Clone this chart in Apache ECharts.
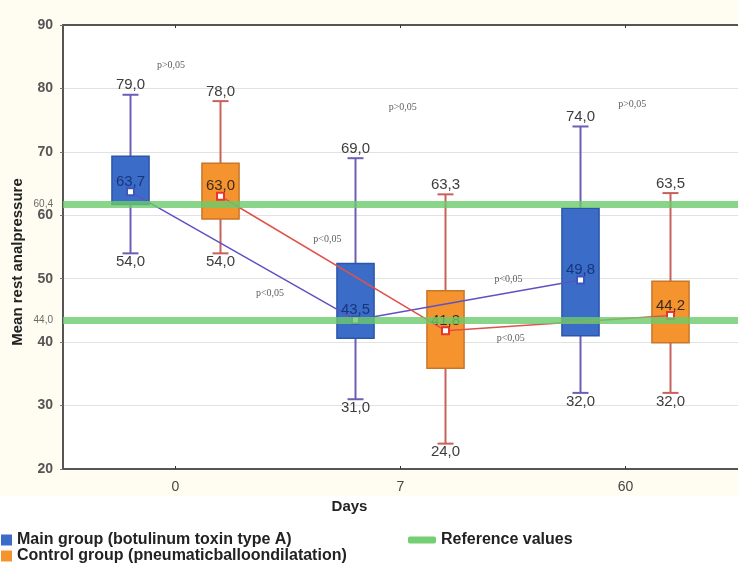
<!DOCTYPE html>
<html>
<head>
<meta charset="utf-8">
<script src="https://cdn.jsdelivr.net/npm/echarts@6/dist/echarts.min.js"></script>
<style>
html,body{margin:0;padding:0;background:#fff;}
#chart{width:738px;height:566px;}
</style>
</head>
<body>
<div id="chart"></div>
<script>
// ---- data ----
const categories = ['0', '7', '60'];

const mainName = 'Main group (botulinum toxin type A)';
const ctrlName = 'Control group (pneumaticballoondilatation)';
const refName = 'Reference values';

// Main group: whisker min, box low, mean, box high, whisker max
const mainMin  = [54.0, 31.0, 32.0];
const mainLow  = [61.7, 40.6, 41.0];
const mainMean = [63.7, 43.5, 49.8];
const mainHigh = [69.3, 52.4, 61.1];
const mainMax  = [79.0, 69.0, 74.0];

// Control group
const ctrlMin  = [54.0, 24.0, 32.0];
const ctrlLow  = [59.4, 35.9, 39.9];
const ctrlMean = [63.0, 41.8, 44.2];
const ctrlHigh = [68.2, 48.1, 49.6];
const ctrlMax  = [78.0, 63.3, 63.5];

// Reference bands (drawn position) and their labels
const refLevels = [61.7, 43.5];
const refLabels = ['60,4', '44,0'];

// p-value notes: text, day position (category index units), value level
const pTexts  = ['p>0,05', 'p>0,05', 'p>0,05', 'p<0,05', 'p<0,05', 'p<0,05', 'p<0,05'];
const pDays   = [-0.02, 1.01, 2.03, 0.675, 0.42, 1.48, 1.49];
const pValues = [83.7, 77.0, 77.5, 56.2, 47.7, 49.9, 40.6];

const yTicks = [20, 30, 40, 50, 60, 70, 80, 90];

// ---- styling constants ----
const GROUP_OFFSET = 0.2;   // fraction of category band
const BOX_WIDTH = 0.165;    // in category units
const fmt = v => v.toFixed(1).replace('.', ',');

function boxData(mins, lows, highs, maxs, sign) {
  return categories.map((c, i) => [i + sign * GROUP_OFFSET, mins[i], lows[i], highs[i], maxs[i]]);
}
function meanData(means, sign) {
  return categories.map((c, i) => [i + sign * GROUP_OFFSET, means[i]]);
}

function makeRender(fill, stroke, whisker) {
  return function (params, api) {
    const x = api.value(0);
    const pMin = api.coord([x, api.value(1)]);
    const pLow = api.coord([x, api.value(2)]);
    const pHigh = api.coord([x, api.value(3)]);
    const pMax = api.coord([x, api.value(4)]);
    const w = api.size([BOX_WIDTH, 0])[0];
    const cap = 8;
    const font = '15px "Liberation Sans", Arial, sans-serif';
    return {
      type: 'group',
      children: [
        { type: 'line', shape: { x1: pMin[0], y1: pMin[1], x2: pMax[0], y2: pMax[1] },
          style: { stroke: whisker, lineWidth: 2 } },
        { type: 'line', shape: { x1: pMax[0] - cap, y1: pMax[1], x2: pMax[0] + cap, y2: pMax[1] },
          style: { stroke: whisker, lineWidth: 2 } },
        { type: 'line', shape: { x1: pMin[0] - cap, y1: pMin[1], x2: pMin[0] + cap, y2: pMin[1] },
          style: { stroke: whisker, lineWidth: 2 } },
        { type: 'rect', shape: { x: pHigh[0] - w / 2, y: pHigh[1], width: w, height: pLow[1] - pHigh[1] },
          style: { fill: fill, stroke: stroke, lineWidth: 1.5 } },
        { type: 'text', style: { text: fmt(api.value(4)), x: pMax[0], y: pMax[1] - 2,
          align: 'center', verticalAlign: 'bottom', font: font, fill: '#3d3d3d' } },
        { type: 'text', style: { text: fmt(api.value(1)), x: pMin[0], y: pMin[1] + 1,
          align: 'center', verticalAlign: 'top', font: font, fill: '#3d3d3d' } }
      ]
    };
  };
}

const chart = echarts.init(document.getElementById('chart'), null, { renderer: 'canvas' });

const option = {
  backgroundColor: '#ffffff',
  animation: false,
  textStyle: { fontFamily: '"Liberation Sans", Arial, sans-serif' },
  graphic: [{
    type: 'rect', left: 0, top: 0, z: -100, silent: true,
    shape: { width: 738, height: 496 },
    style: { fill: '#fffdf2' }
  }],
  grid: {
    left: 63, top: 25, width: 680, height: 444,
    show: true, backgroundColor: '#ffffff', borderWidth: 0
  },
  legend: [{
    data: [mainName, ctrlName],
    orient: 'vertical', left: 1, top: 532, padding: 0,
    icon: 'rect', itemWidth: 11, itemHeight: 11, itemGap: 0, itemTextGap: 5,
    textStyle: { fontWeight: 'bold', fontSize: 16, lineHeight: 16, color: '#222' }
  }, {
    data: [{ name: refName, icon: 'roundRect' }],
    left: 408, top: 532, padding: 0,
    itemWidth: 28, itemHeight: 7, itemTextGap: 7,
    textStyle: { fontWeight: 'bold', fontSize: 16, lineHeight: 16, color: '#222' }
  }],
  xAxis: [{
    type: 'category', data: categories, position: 'bottom', boundaryGap: true,
    axisLine: { lineStyle: { color: '#555', width: 2 } },
    axisTick: { show: true, alignWithLabel: true, inside: true, length: 3, lineStyle: { color: '#333' } },
    axisLabel: { fontSize: 14, color: '#444', margin: 11 },
    splitLine: { show: false },
    name: 'Days', nameLocation: 'middle', nameGap: 29,
    nameTextStyle: { fontWeight: 'bold', fontSize: 15, color: '#222', padding: [0, 102, 0, 0] }
  }, {
    type: 'value', min: -0.5, max: 2.5, show: false, position: 'bottom'
  }, {
    type: 'category', data: categories, position: 'top', boundaryGap: true,
    axisLine: { lineStyle: { color: '#555', width: 2 } },
    axisTick: { show: true, alignWithLabel: true, inside: true, length: 3, lineStyle: { color: '#333' } },
    axisLabel: { show: false }
  }],
  yAxis: [{
    type: 'value', min: yTicks[0], max: yTicks[yTicks.length - 1], interval: 10,
    axisLine: { show: true, onZero: false, lineStyle: { color: '#555', width: 2 } },
    axisTick: { show: true, length: 3, lineStyle: { color: '#777' } },
    axisLabel: { fontSize: 14, fontWeight: 'bold', color: '#555', margin: 10 },
    splitLine: { show: true, lineStyle: { color: '#e2e2e2', width: 1 } },
    name: 'Mean rest analpressure', nameLocation: 'middle', nameGap: 38,
    nameTextStyle: { fontWeight: 'bold', fontSize: 15, color: '#222', padding: [0, 30, 0, 0] }
  }],
  series: [{
    name: mainName, type: 'custom', xAxisIndex: 1, yAxisIndex: 0, z: 2,
    itemStyle: { color: '#3a6cc8' },
    encode: { x: 0, y: [1, 2, 3, 4] },
    renderItem: makeRender('#3a6cc8', '#2a57a8', '#6a5fb5'),
    data: boxData(mainMin, mainLow, mainHigh, mainMax, -1)
  }, {
    name: ctrlName, type: 'custom', xAxisIndex: 1, yAxisIndex: 0, z: 2,
    itemStyle: { color: '#f5942e' },
    encode: { x: 0, y: [1, 2, 3, 4] },
    renderItem: makeRender('#f5942e', '#c8762a', '#c8615a'),
    data: boxData(ctrlMin, ctrlLow, ctrlHigh, ctrlMax, 1)
  }, {
    name: mainName + ' mean', type: 'line', xAxisIndex: 1, yAxisIndex: 0, z: 3,
    data: meanData(mainMean, -1),
    symbol: 'emptyRect', symbolSize: 7,
    lineStyle: { color: '#5e52c2', width: 1.5 },
    itemStyle: { color: '#3f55b8', borderWidth: 1.3 },
    label: { show: true, position: 'inside', offset: [0, -10], fontSize: 15, color: '#18357c',
      formatter: p => fmt(p.value[1]) }
  }, {
    name: ctrlName + ' mean', type: 'line', xAxisIndex: 1, yAxisIndex: 0, z: 3,
    data: meanData(ctrlMean, 1),
    symbol: 'emptyRect', symbolSize: 7,
    lineStyle: { color: '#e0524a', width: 1.5 },
    itemStyle: { color: '#e8362c', borderWidth: 1.3 },
    label: { show: true, position: 'inside', offset: [0, -10], fontSize: 15, color: '#3a2a1e',
      formatter: p => fmt(p.value[1]) }
  }, {
    name: refName, type: 'line', xAxisIndex: 1, yAxisIndex: 0, z: 5,
    data: [],
    itemStyle: { color: '#74cf74' },
    lineStyle: { color: '#74cf74' },
    markLine: {
      silent: true, symbol: 'none', z: 5,
      lineStyle: { color: '#6ccb6c', width: 7, type: 'solid', opacity: 0.8 },
      label: { show: true, position: 'start', distance: 10, fontSize: 10, color: '#444',
        formatter: p => refLabels[p.dataIndex] },
      data: refLevels.map(v => ({ yAxis: v }))
    }
  }, {
    name: 'notes', type: 'scatter', xAxisIndex: 1, yAxisIndex: 0, z: 6,
    symbolSize: 0, silent: true,
    data: pTexts.map((t, i) => ({ name: t, value: [pDays[i], pValues[i]] })),
    label: { show: true, position: 'inside', fontSize: 10, color: '#333',
      fontFamily: '"Liberation Serif", "Times New Roman", serif',
      formatter: p => p.name }
  }]
};
chart.setOption(option);
</script>
</body>
</html>
